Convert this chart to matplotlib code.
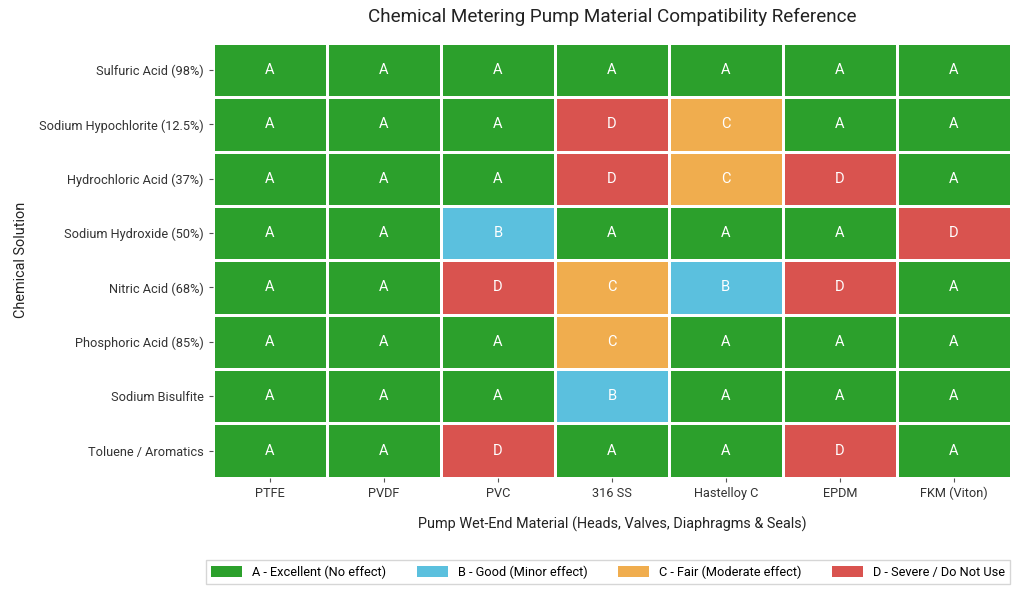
import numpy as np
import matplotlib
matplotlib.use('Agg')
import matplotlib.pyplot as plt
from matplotlib.colors import ListedColormap, BoundaryNorm
from matplotlib.patches import Patch

plt.rcParams['font.family'] = ['Roboto', 'DejaVu Sans']

# Dados da tabela de compatibilidade
quimicos = ['Sulfuric Acid (98%)', 'Sodium Hypochlorite (12.5%)', 'Hydrochloric Acid (37%)',
            'Sodium Hydroxide (50%)', 'Nitric Acid (68%)', 'Phosphoric Acid (85%)',
            'Sodium Bisulfite', 'Toluene / Aromatics']
materiais = ['PTFE', 'PVDF', 'PVC', '316 SS', 'Hastelloy C', 'EPDM', 'FKM (Viton)']
notas = [
    ['A', 'A', 'A', 'A', 'A', 'A', 'A'],
    ['A', 'A', 'A', 'D', 'C', 'A', 'A'],
    ['A', 'A', 'A', 'D', 'C', 'D', 'A'],
    ['A', 'A', 'B', 'A', 'A', 'A', 'D'],
    ['A', 'A', 'D', 'C', 'B', 'D', 'A'],
    ['A', 'A', 'A', 'C', 'A', 'A', 'A'],
    ['A', 'A', 'A', 'B', 'A', 'A', 'A'],
    ['A', 'A', 'D', 'A', 'A', 'D', 'A'],
]
legenda = ['A - Excellent (No effect)', 'B - Good (Minor effect)',
           'C - Fair (Moderate effect)', 'D - Severe / Do Not Use']
cores = ['#2ca02c', '#5bc0de', '#f0ad4e', '#d9534f']

codigo = {'A': 0, 'B': 1, 'C': 2, 'D': 3}
matriz = np.array([[codigo[n] for n in linha] for linha in notas])

fig = plt.figure(figsize=(10.24, 5.95), dpi=100)
ax = fig.add_axes([0.208, 0.197, 0.779, 0.731])

cmap = ListedColormap(cores)
norm = BoundaryNorm([-0.5, 0.5, 1.5, 2.5, 3.5], cmap.N)
ax.pcolormesh(matriz, cmap=cmap, norm=norm, edgecolors='white', linewidth=2)
ax.set_xlim(0, len(materiais))
ax.set_ylim(len(quimicos), 0)

for i in range(len(quimicos)):
    for j in range(len(materiais)):
        ax.text(j + 0.5, i + 0.5, notas[i][j], ha='center', va='center',
                color='white', fontsize=10.5)

ax.set_xticks(np.arange(len(materiais)) + 0.5)
ax.set_xticklabels(materiais, fontsize=9.2, color='#333333')
ax.set_yticks(np.arange(len(quimicos)) + 0.5)
ax.set_yticklabels(quimicos, fontsize=9.2, color='#333333')
ax.tick_params(length=3, color='#555555')
for s in ax.spines.values():
    s.set_visible(False)

ax.set_xlabel('Pump Wet-End Material (Heads, Valves, Diaphragms & Seals)', fontsize=10.4,
              color='#222222', labelpad=12)
ax.set_ylabel('Chemical Solution', fontsize=10.4, color='#222222', labelpad=8)
ax.set_title('Chemical Metering Pump Material Compatibility Reference', fontsize=13.6,
             color='#222222', pad=15)

handles = [Patch(facecolor=c, label=l) for c, l in zip(cores, legenda)]
fig.legend(handles=handles, loc='lower right', bbox_to_anchor=(0.993, 0.008), ncol=4,
           fontsize=9.2, frameon=True, edgecolor='#cccccc', fancybox=False,
           handlelength=2.4, handleheight=0.9, columnspacing=2.4)

fig.savefig('out.png', dpi=100)
